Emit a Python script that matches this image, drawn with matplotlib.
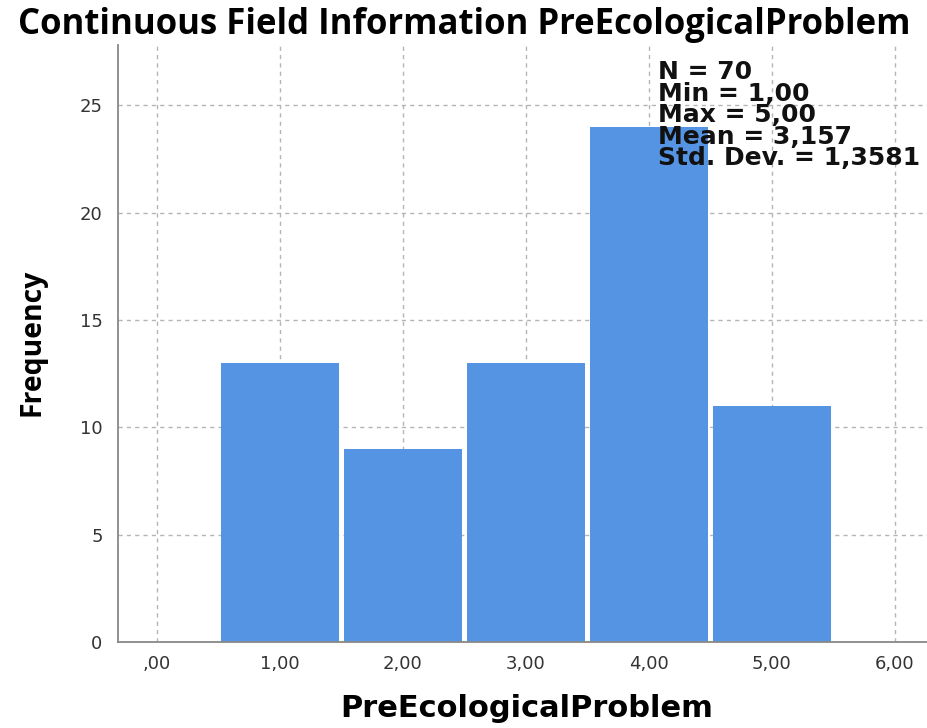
import matplotlib
matplotlib.use("Agg")
import matplotlib.pyplot as plt

# Histogram of PreEcologicalProblem responses
bin_centers = [1, 2, 3, 4, 5]
frequencies = [13, 9, 13, 24, 11]
x_ticks = [0, 1, 2, 3, 4, 5, 6]
x_tick_labels = [",00", "1,00", "2,00", "3,00", "4,00", "5,00", "6,00"]
y_ticks = [0, 5, 10, 15, 20, 25]
stats_lines = ["N = 70", "Min = 1,00", "Max = 5,00", "Mean = 3,157", "Std. Dev. = 1,3581"]

fig = plt.figure(figsize=(9.28, 7.28), dpi=100)
ax = fig.add_axes([0.127, 0.118, 0.873, 0.820])

ax.bar(bin_centers, frequencies, width=0.955, color="#5594E2", zorder=3)

ax.set_xlim(-0.317, 6.27)
ax.set_ylim(0, 27.8)
ax.set_xticks(x_ticks)
ax.set_xticklabels(x_tick_labels)
ax.set_yticks(y_ticks)
ax.tick_params(length=0, labelsize=13, colors="#333333")
ax.tick_params(axis="x", pad=9)
ax.tick_params(axis="y", pad=11)

ax.grid(True, linestyle=(0, (3, 3)), color="#b5b5b5", linewidth=1.0, zorder=0)
for s in ["top", "right"]:
    ax.spines[s].set_visible(False)
for s in ["left", "bottom"]:
    ax.spines[s].set_color("#888888")
    ax.spines[s].set_linewidth(1.3)
    ax.spines[s].set_zorder(4)

fig.text(0.5, 0.966, "Continuous Field Information PreEcologicalProblem",
         ha="center", va="center", fontsize=25, fontweight="bold",
         family="Open Sans")
fig.text(0.035, 0.530, "Frequency", rotation=90, ha="center", va="center",
         fontsize=20.4, fontweight="bold", family="Open Sans")
fig.text(0.568, 0.027, "PreEcologicalProblem", ha="center", va="center",
         fontsize=22, fontweight="bold")

ax.text(0.667, 0.975, "\n".join(stats_lines), transform=ax.transAxes,
        ha="left", va="top", fontsize=18, fontweight="bold",
        linespacing=0.87, color="#111111", zorder=5)

fig.savefig("out.png", dpi=100)
